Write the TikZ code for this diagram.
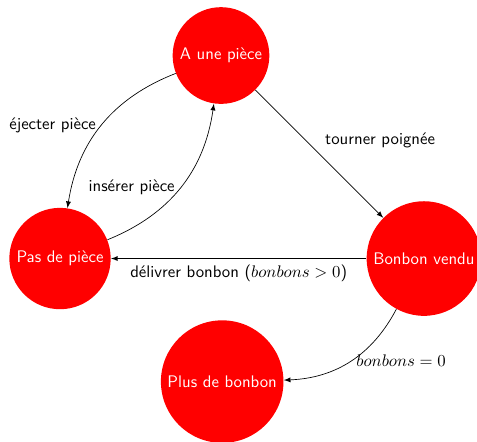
\documentclass[tikz,border=0pt]{standalone}
\begin{document}
\begin{tikzpicture}[>=latex,font=\sffamily,
        state/.style={circle,fill=red,text=white}]
        % fix the margins
        \useasboundingbox (-1.258cm,-3.826cm) rectangle (8.742cm,5.42cm);

        % the states
        \node[state] (piece) at (3.375cm,4.256cm) {A une pièce};
        \node[state] (sans) at (0cm,0cm) {Pas de pièce};
        \node[state] (vendu) at (7.63cm,0cm) {Bonbon vendu};
        \node[state] (vide) at (3.4cm,-2.58cm) {Plus de bonbon};

        % the transitions
        \draw[->] (piece) to[bend right] node[left] {éjecter pièce} (sans);
        \draw[->] (sans) to[bend right] node[left] {insérer pièce} (piece);
        \draw[->] (piece) -- node[above right] {tourner poignée} (vendu);
        \draw[->] (vendu) -- node[below] {délivrer bonbon ($bonbons > 0$)} (sans);
        \draw[->] (vendu) to[bend left] node[right] {$bonbons = 0$} (vide);
\end{tikzpicture}
\end{document}
